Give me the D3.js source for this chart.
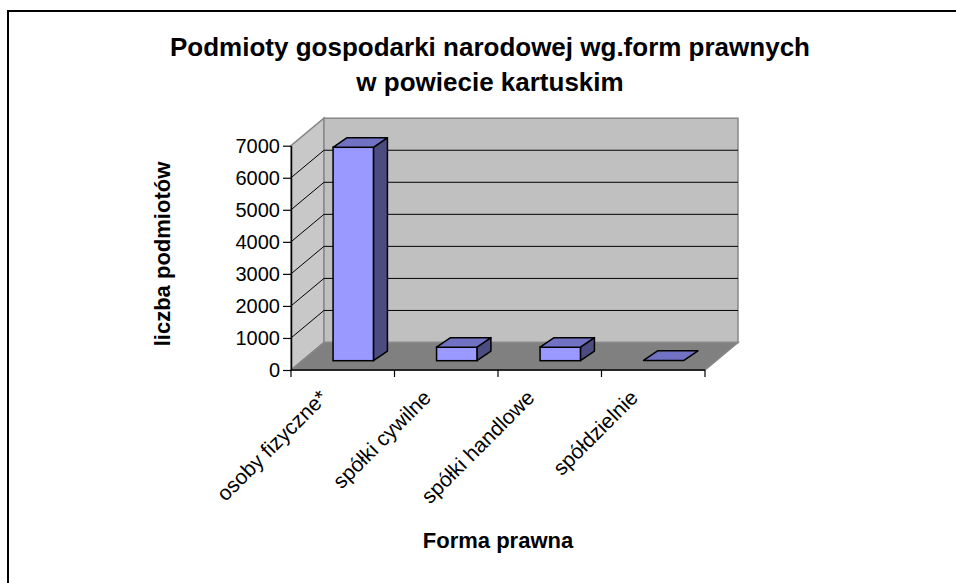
<!DOCTYPE html>
<html lang="pl">
<head>
<meta charset="utf-8">
<title>Podmioty gospodarki narodowej</title>
<script src="https://cdn.jsdelivr.net/npm/d3@7"></script>
<style>
  body { margin: 0; background: #fff; }
  svg { display: block; font-family: "Liberation Sans", Arial, sans-serif; }
</style>
</head>
<body>
<div id="chart"></div>
<script>
// data
var categories = ["osoby fizyczne*", "spółki cywilne", "spółki handlowe", "spółdzielnie"];
var values = [6660, 420, 420, 10];
var yTicks = [0, 1000, 2000, 3000, 4000, 5000, 6000, 7000];

var width = 956, height = 583;
var svg = d3.select("#chart").append("svg")
  .attr("width", width)
  .attr("height", height);

// outer frame (only top/left are visible in the picture)
svg.append("rect")
  .attr("x", 8).attr("y", 11)
  .attr("width", 1000).attr("height", 1000)
  .attr("fill", "none").attr("stroke", "#000").attr("stroke-width", 2);

// plot geometry (front plane)
var x0 = 291, x1 = 705, yBottom = 370, yTop = 145.7;
var depth = { dx: 33, dy: -27.5 };       // wall depth
var barOff = { dx: 10.5, dy: -9.3 };     // bar front plane
var barDepth = { dx: 14, dy: -9.6 };     // bar thickness

var x = d3.scaleBand().domain(categories).range([x0, x1]);
var y = d3.scaleLinear().domain([0, 7000]).range([yBottom, yTop]);

var g = svg.append("g");

// side wall
g.append("path")
  .attr("d", "M" + x0 + "," + y(0) + "L" + x0 + "," + y(7000) +
    "L" + (x0 + depth.dx) + "," + (y(7000) + depth.dy) +
    "L" + (x0 + depth.dx) + "," + (y(0) + depth.dy) + "Z")
  .attr("fill", "#c8c8c8").attr("stroke", "#888").attr("stroke-width", 1.5);

// back wall
g.append("rect")
  .attr("x", x0 + depth.dx).attr("y", y(7000) + depth.dy)
  .attr("width", x1 - x0).attr("height", y(0) - y(7000))
  .attr("fill", "#c0c0c0").attr("stroke", "#888").attr("stroke-width", 1.5);

// floor
g.append("path")
  .attr("d", "M" + x0 + "," + y(0) + "L" + (x0 + depth.dx) + "," + (y(0) + depth.dy) +
    "L" + (x1 + depth.dx) + "," + (y(0) + depth.dy) + "L" + x1 + "," + y(0) + "Z")
  .attr("fill", "#808080").attr("stroke", "#888").attr("stroke-width", 1.5);

// gridlines on back wall + side wall diagonals
var grid = yTicks.filter(function(d){ return d > 0 && d < 7000; });
g.selectAll(".gridback").data(grid).enter().append("line")
  .attr("x1", x0 + depth.dx).attr("x2", x1 + depth.dx)
  .attr("y1", function(d){ return y(d) + depth.dy; })
  .attr("y2", function(d){ return y(d) + depth.dy; })
  .attr("stroke", "#000").attr("stroke-width", 1);
g.selectAll(".gridside").data(grid).enter().append("line")
  .attr("x1", x0).attr("x2", x0 + depth.dx)
  .attr("y1", function(d){ return y(d); })
  .attr("y2", function(d){ return y(d) + depth.dy; })
  .attr("stroke", "#000").attr("stroke-width", 1);

// bars
var bw = x.bandwidth() * 0.39;
var bars = g.selectAll(".bar").data(categories).enter().append("g").attr("class", "bar");
function poly(pts) { return "M" + pts.map(function(p){ return p.join(","); }).join("L") + "Z"; }
bars.each(function(c, i) {
  var v = values[i];
  var fx = x(c) + x.bandwidth() / 2 - bw / 2 + barOff.dx;
  var fb = y(0) + barOff.dy;
  var ft = y(v) + barOff.dy;
  var b = d3.select(this);
  if (fb - ft > 1) {
    // side
    b.append("path").attr("d", poly([[fx + bw, fb], [fx + bw, ft], [fx + bw + barDepth.dx, ft + barDepth.dy], [fx + bw + barDepth.dx, fb + barDepth.dy]]))
      .attr("fill", "#4c4c80").attr("stroke", "#000").attr("stroke-width", 1.5).attr("stroke-linejoin", "round");
    // front
    b.append("rect").attr("x", fx).attr("y", ft).attr("width", bw).attr("height", fb - ft)
      .attr("fill", "#9999ff").attr("stroke", "#000").attr("stroke-width", 1.5);
  }
  // top
  b.append("path").attr("d", poly([[fx, ft], [fx + barDepth.dx, ft + barDepth.dy], [fx + bw + barDepth.dx, ft + barDepth.dy], [fx + bw, ft]]))
    .attr("fill", "#7272c4").attr("stroke", "#000").attr("stroke-width", 1.5).attr("stroke-linejoin", "round");
});

// y axis
var yAxis = svg.append("g")
  .attr("transform", "translate(" + x0 + ",0)")
  .call(d3.axisLeft(y).tickValues(yTicks).tickFormat(d3.format("d")).tickSize(8).tickSizeOuter(0).tickPadding(3));
yAxis.select(".domain").attr("stroke", "#000").attr("stroke-width", 1.5);
yAxis.selectAll(".tick line").attr("stroke", "#000").attr("stroke-width", 1.2);
yAxis.selectAll(".tick text")
  .attr("font-family", "Liberation Sans, Arial, sans-serif")
  .attr("font-size", 20).attr("fill", "#000");

// x axis: line + ticks at band boundaries
svg.append("line").attr("x1", x0).attr("x2", x1).attr("y1", yBottom).attr("y2", yBottom)
  .attr("stroke", "#000").attr("stroke-width", 1.5);
var bounds = categories.map(function(c){ return x(c); }).concat([x1]);
svg.selectAll(".xtick").data(bounds).enter().append("line")
  .attr("x1", function(d){ return d; }).attr("x2", function(d){ return d; })
  .attr("y1", yBottom).attr("y2", yBottom + 7)
  .attr("stroke", "#000").attr("stroke-width", 1.2);

svg.selectAll(".xlabel").data(categories).enter().append("text")
  .attr("transform", function(c){ return "translate(" + (x(c) + x.bandwidth() / 2 - 14) + "," + 399 + ") rotate(-45)"; })
  .attr("text-anchor", "end")
  .attr("font-size", 21)
  .attr("fill", "#000")
  .text(function(c){ return c; });

// titles
var title = svg.append("text")
  .attr("text-anchor", "middle")
  .attr("font-weight", "bold")
  .attr("font-size", 26)
  .attr("fill", "#000");
title.append("tspan").attr("x", 490).attr("y", 56).text("Podmioty gospodarki narodowej wg.form prawnych");
title.append("tspan").attr("x", 490).attr("y", 91).text("w powiecie kartuskim");

svg.append("text")
  .attr("transform", "translate(170,254) rotate(-90)")
  .attr("text-anchor", "middle")
  .attr("font-weight", "bold")
  .attr("font-size", 22)
  .text("liczba podmiotów");

svg.append("text")
  .attr("x", 498).attr("y", 548)
  .attr("text-anchor", "middle")
  .attr("font-weight", "bold")
  .attr("font-size", 22)
  .text("Forma prawna");
</script>
</body>
</html>
